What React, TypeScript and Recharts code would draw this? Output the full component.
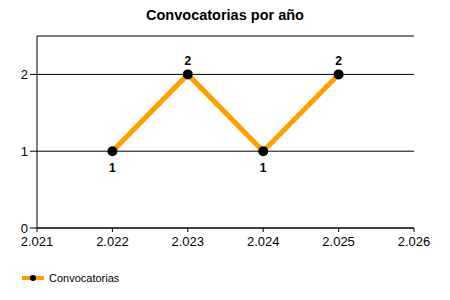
import { LineChart, Line, XAxis, YAxis, CartesianGrid, LabelList } from "recharts";

const years = [2022, 2023, 2024, 2025];
const convocatorias = [1, 2, 1, 2];
const xTicks = [2021, 2022, 2023, 2024, 2025, 2026];
const yTicks = [0, 1, 2];

const data = years.map((y, i) => ({ year: y, value: convocatorias[i] }));

const ORANGE = "#FFA000";
const FONT = "'Liberation Sans', Arial, sans-serif";

const fmtYear = (v: number) => String(v).replace(/(\d)(\d{3})$/, "$1.$2");

const PointLabel = (props: any) => {
  const { x, y, value } = props;
  const above = value === 2;
  return (
    <text
      x={x}
      y={above ? y - 9 : y + 21}
      textAnchor="middle"
      fontSize={12}
      fontWeight="bold"
      fill="#000"
      fontFamily={FONT}
    >
      {value}
    </text>
  );
};

const App = () => {
  return (
    <div style={{ position: "absolute", left: 0, top: 0, width: 450, height: 300, background: "#fff", fontFamily: FONT }}>
      <div style={{ position: "absolute", top: 7, left: 0, width: 450, textAlign: "center", fontSize: 14.5, fontWeight: "bold" }}>
        Convocatorias por año
      </div>
      <LineChart width={450} height={300} data={data} margin={{ top: 36, right: 36, left: 0, bottom: 42 }}>
        <CartesianGrid vertical={false} stroke="#000" />
        <XAxis
          dataKey="year"
          type="number"
          domain={[2021, 2026]}
          ticks={xTicks}
          tickFormatter={fmtYear}
          height={30}
          stroke="#000"
          tickSize={4}
          tickMargin={5}
          tick={{ fill: "#000", fontSize: 13, fontFamily: FONT }}
          interval={0}
        />
        <YAxis
          type="number"
          domain={[0, 2.5]}
          ticks={yTicks}
          width={37}
          stroke="#000"
          tickSize={7}
          tickMargin={2}
          tick={{ fill: "#000", fontSize: 13, fontFamily: FONT }}
          interval={0}
        />
        <Line
          type="linear"
          dataKey="value"
          stroke={ORANGE}
          strokeWidth={5}
          dot={{ r: 5, fill: "#000", stroke: "#000", strokeWidth: 0 }}
          activeDot={false}
          isAnimationActive={false}
        >
          <LabelList dataKey="value" content={PointLabel} />
        </Line>
      </LineChart>
      <div style={{ position: "absolute", left: 22, top: 272, display: "flex", alignItems: "center", fontSize: 11 }}>
        <svg width={22} height={10}>
          <line x1={0} y1={5} x2={22} y2={5} stroke={ORANGE} strokeWidth={4} />
          <circle cx={11} cy={5} r={3} fill="#000" />
        </svg>
        <span style={{ marginLeft: 5 }}>Convocatorias</span>
      </div>
    </div>
  );
};

export default App;
